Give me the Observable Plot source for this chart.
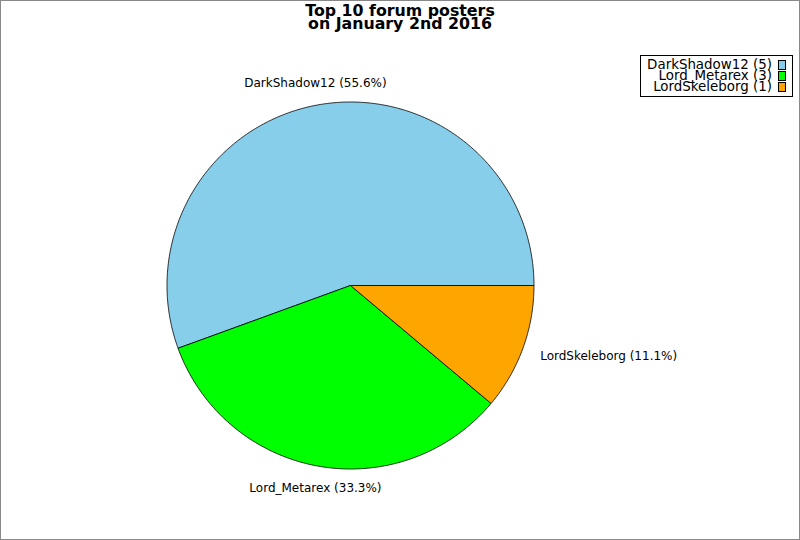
<!DOCTYPE html>
<html>
<head>
<meta charset="utf-8">
<script src="https://cdn.jsdelivr.net/npm/d3@7"></script>
<script src="https://cdn.jsdelivr.net/npm/@observablehq/plot@0.6"></script>
<style>
  html, body { margin: 0; padding: 0; background: #fff; }
  #wrap { position: relative; width: 800px; height: 540px; font-family: "DejaVu Sans", sans-serif; }
  #frame { position: absolute; left: 0; top: 0; width: 798px; height: 538px; border: 1px solid #888; pointer-events: none; }
  .tline { position: absolute; left: 0; width: 800px; height: 13px; text-align: center; font-weight: bold; font-size: 15.8px; line-height: 13px; color: #000; white-space: pre; }
  #legend { position: absolute; left: 640px; top: 55px; width: 151px; height: 40px; border: 1px solid #000; background: #fff; box-sizing: content-box; }
  .lrow { position: absolute; right: 6px; height: 11px; display: flex; align-items: center; font-size: 13.4px; line-height: 11px; color: #000; white-space: pre; }
  .sw { display: inline-block; width: 6px; height: 8px; border: 1px solid #000; margin-left: 6px; }
</style>
</head>
<body>
<div id="wrap">
  <div id="chart"></div>
  <div id="title"></div>
  <div id="legend"></div>
  <div id="frame"></div>
</div>
<script>
const names = ["DarkShadow12", "Lord_Metarex", "LordSkeleborg"];
const counts = [5, 3, 1];
const colors = ["#87ceeb", "#00ff00", "#ffa500"];
const titleLines = ["Top 10 forum posters", "on January 2nd 2016"];

const total = d3.sum(counts);
const slices = [];
let cum = 0;
names.forEach((name, i) => {
  const a0 = 2 * Math.PI * cum / total;
  cum += counts[i];
  const a1 = 2 * Math.PI * cum / total;
  slices.push({ name, count: counts[i], a0, a1, pct: (100 * counts[i] / total).toFixed(1) });
});

// polygon points of each slice in unit-radius data coordinates
const pts = [];
for (const s of slices) {
  pts.push({ name: s.name, x: 0, y: 0 });
  const n = Math.max(2, Math.ceil((s.a1 - s.a0) / 0.01));
  for (let k = 0; k <= n; k++) {
    const a = s.a0 + (s.a1 - s.a0) * k / n;
    pts.push({ name: s.name, x: Math.cos(a), y: Math.sin(a) });
  }
  pts.push({ name: s.name, x: 0, y: 0 });
}

const labels = slices.map(s => {
  const m = (s.a0 + s.a1) / 2;
  const c = Math.cos(m);
  return {
    x: 1.1 * c,
    y: 1.12 * Math.sin(m),
    text: `${s.name} (${s.pct}%)`,
    anchor: Math.abs(c) < 0.5 ? "middle" : (c > 0 ? "start" : "end")
  };
});

const R = 183.5, cx = 350, cy = 285, W = 800, H = 540;
const chart = Plot.plot({
  width: W, height: H,
  margin: 0,
  x: { domain: [-cx / R, (W - cx) / R], range: [0, W], axis: null },
  y: { domain: [-(H - cy) / R, cy / R], range: [H, 0], axis: null },
  color: { domain: names, range: colors },
  style: { fontFamily: "DejaVu Sans, sans-serif", background: "#fff" },
  marks: [
    Plot.line(pts, { x: "x", y: "y", z: "name", fill: "name", stroke: "#000", strokeWidth: 0.8, curve: "linear" }),
    ...["middle", "start", "end"].map(a =>
      Plot.text(labels.filter(d => d.anchor === a), { x: "x", y: "y", text: "text", textAnchor: a, fontSize: 12, fill: "#000" })
    )
  ]
});
document.getElementById("chart").appendChild(chart);

const title = document.getElementById("title");
titleLines.forEach((t, i) => {
  const d = document.getElementById("title").appendChild(document.createElement("div"));
  d.className = "tline";
  d.style.top = (4 + i * 13) + "px";
  d.textContent = t;
});

const legend = document.getElementById("legend");
slices.forEach((s, i) => {
  const row = document.createElement("div");
  row.className = "lrow";
  row.style.top = (3 + i * 11) + "px";
  row.innerHTML = `<span>${s.name} (${s.count})</span><span class="sw" style="background:${colors[i]}"></span>`;
  legend.appendChild(row);
});
</script>
</body>
</html>
